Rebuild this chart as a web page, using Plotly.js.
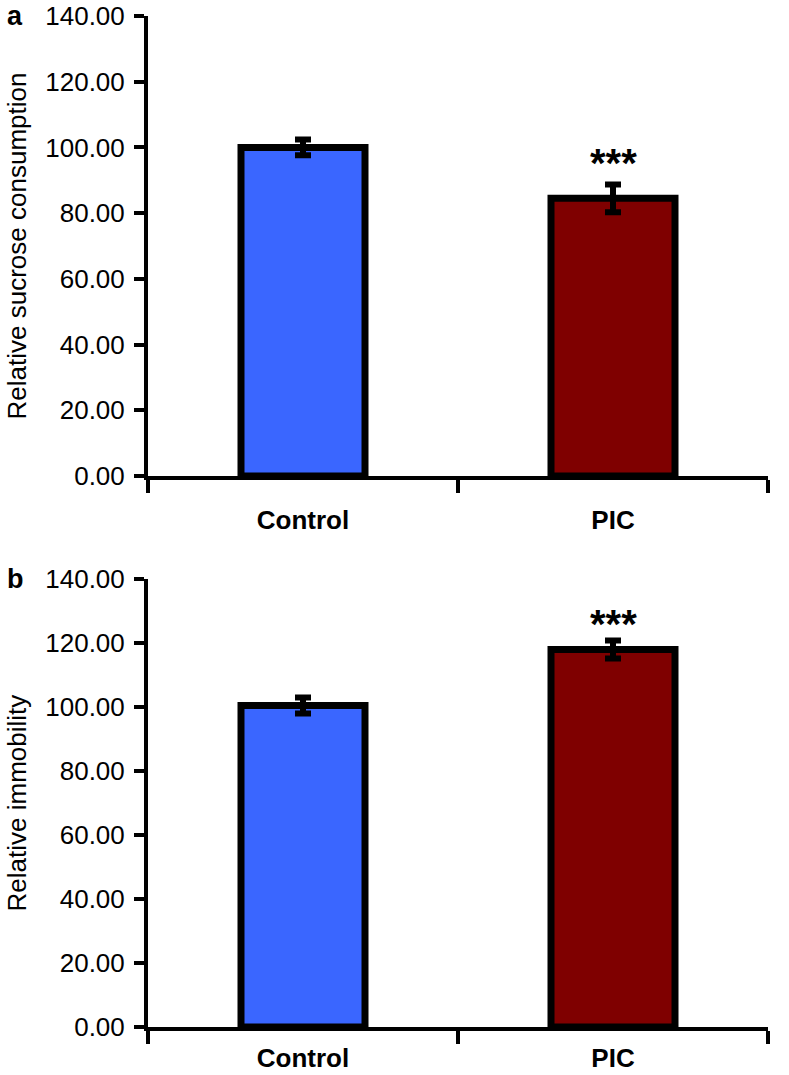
<!DOCTYPE html>
<html>
<head>
<meta charset="utf-8">
<script src="https://cdn.plot.ly/plotly-3.0.1.min.js"></script>
<style>html,body{margin:0;padding:0;background:#fff;}</style>
</head>
<body>
<div id="chart" style="width:789px;height:1075px;"></div>
<script>
// Data
var groups = ["Control", "PIC"];
var sucroseValues = [100.0, 84.5];
var sucroseErrors = [2.4, 4.2];
var immobilityValues = [100.5, 118.0];
var immobilityErrors = [2.5, 2.8];
var significance = ["", "***"];
var yTicks = [0, 20, 40, 60, 80, 100, 120, 140];
var barColors = ["#3A66FF", "#7F0000"];

var FONT = "Liberation Sans, Arial, sans-serif";

function barTrace(vals, errs, xa, ya) {
  return {
    type: "bar",
    x: groups,
    y: vals,
    xaxis: xa,
    yaxis: ya,
    width: 0.4,
    marker: {color: barColors, line: {color: "#000", width: 7}},
    error_y: {type: "data", array: errs, visible: true, color: "#000", thickness: 6, width: 8},
    showlegend: false,
    hoverinfo: "skip"
  };
}

var traces = [
  barTrace(sucroseValues, sucroseErrors, "x", "y"),
  barTrace(immobilityValues, immobilityErrors, "x2", "y2")
];

function yAxis(domain, titleText, anchor) {
  return {
    domain: domain,
    anchor: anchor,
    range: [0, 140],
    tickvals: yTicks,
    tickformat: ".2f",
    ticks: "outside",
    ticklen: 10,
    tickwidth: 4,
    tickcolor: "#000",
    ticklabelstandoff: 4,
    showline: true,
    linewidth: 4,
    linecolor: "#000",
    showgrid: false,
    zeroline: false,
    tickfont: {family: FONT, size: 26, color: "#000"},
    title: {text: titleText, font: {family: FONT, size: 26, color: "#000"}, standoff: 12},
    fixedrange: true
  };
}

function xAxis(anchor, standoff) {
  return {
    anchor: anchor,
    domain: [0, 1],
    type: "category",
    tickson: "boundaries",
    ticks: "outside",
    ticklen: 13,
    tickwidth: 4,
    tickcolor: "#000",
    ticklabelstandoff: standoff,
    showline: true,
    linewidth: 4,
    linecolor: "#000",
    showgrid: false,
    zeroline: false,
    tickfont: {family: FONT, size: 26, color: "#000", weight: "bold"},
    fixedrange: true
  };
}

var annotations = [];
var sigShift = [22, 17];
[[sucroseValues, sucroseErrors, "x", "y"], [immobilityValues, immobilityErrors, "x2", "y2"]].forEach(function (p, k) {
  for (var i = 0; i < groups.length; i++) {
    if (significance[i]) {
      annotations.push({
        x: groups[i], y: p[0][i] + p[1][i], xref: p[2], yref: p[3],
        text: significance[i], showarrow: false, yanchor: "middle", yshift: sigShift[k],
        font: {family: FONT, size: 40, color: "#000", weight: "bold"}
      });
    }
  }
});
annotations.push({xref: "paper", yref: "paper", x: -0.23, y: 1.0, xanchor: "left", yanchor: "middle",
  text: "a", showarrow: false, font: {family: FONT, size: 27, color: "#000", weight: "bold"}});
annotations.push({xref: "paper", yref: "paper", x: -0.23, y: 0.443, xanchor: "left", yanchor: "middle",
  text: "b", showarrow: false, font: {family: FONT, size: 27, color: "#000", weight: "bold"}});

var layout = {
  width: 789,
  height: 1075,
  margin: {l: 148, r: 21, t: 16, b: 48},
  paper_bgcolor: "#fff",
  plot_bgcolor: "#fff",
  xaxis: xAxis("y", 18),
  yaxis: yAxis([0.545, 1], "Relative sucrose consumption", "x"),
  xaxis2: xAxis("y2", 5),
  yaxis2: yAxis([0, 0.443], "Relative immobility", "x2"),
  annotations: annotations,
  showlegend: false
};

Plotly.newPlot("chart", traces, layout, {displayModeBar: false, staticPlot: true});
</script>
</body>
</html>
